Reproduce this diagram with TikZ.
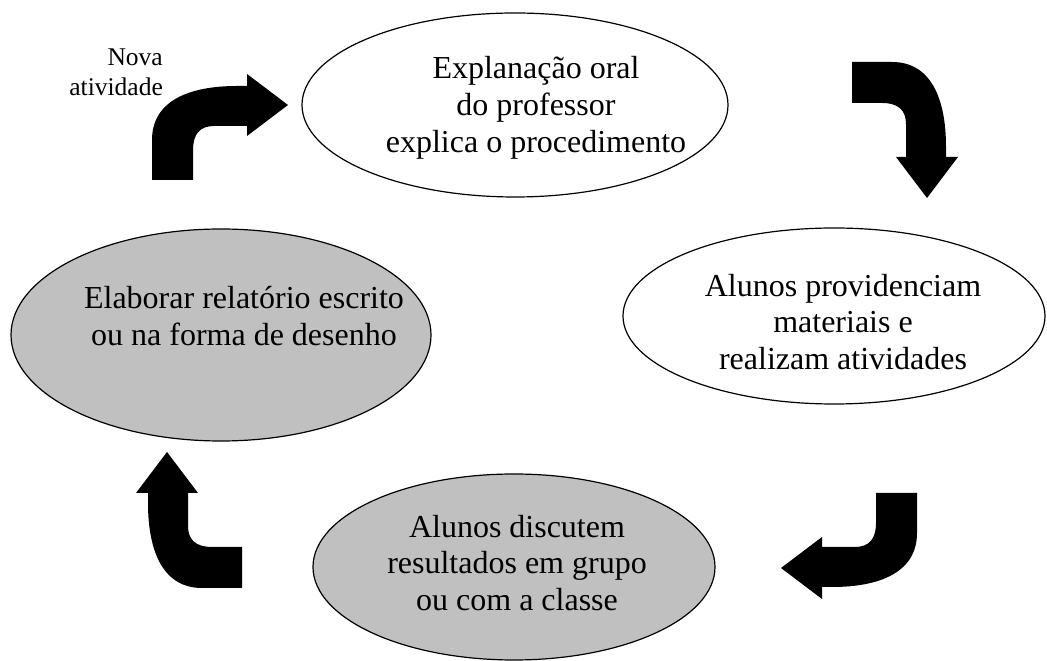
\documentclass[tikz,border=0pt]{standalone}
\usepackage{fontspec}
\setmainfont{Liberation Serif}
\usetikzlibrary{shapes.geometric}

\definecolor{cinza}{RGB}{192,192,192}
\tikzset{
  etapa/.style={ellipse, draw, line width=1.2pt, inner sep=0pt},
  etapacinza/.style={etapa, fill=cinza},
  rotulo/.style={font=\fontsize{32}{36.8}\selectfont, align=center, inner sep=0pt},
  seta/.style={fill=black}
}

\begin{document}
\begin{tikzpicture}[x=1pt, y=1pt]
    \useasboundingbox (0,0) rectangle (1047,661);
    % ellipses
    \node[etapa, minimum width=426, minimum height=184] (expl) at (515,556) {};
    \node[etapa, minimum width=422, minimum height=176] (mat) at (834,345) {};
    \node[etapacinza, minimum width=420, minimum height=212] (rel) at (221,326) {};
    \node[etapacinza, minimum width=402, minimum height=186] (disc) at (514,94) {};
    % texts
    \node[rotulo] (expl-txt) at (536,553) {Explanação oral\\do professor\\explica o procedimento};
    \node[rotulo] (mat-txt) at (843,339) {Alunos providenciam\\materiais e\\realizam atividades};
    \node[rotulo] (rel-txt) at (244,345) {Elaborar relatório escrito\\ou na forma de desenho};
    \node[rotulo] (disc-txt) at (517,98) {Alunos discutem\\resultados em grupo\\ou com a classe};
    \node[font=\fontsize{25.5}{30}\selectfont, align=right, inner sep=0pt, anchor=east] (nova) at (163,589) {Nova\\atividade};
    % bent arrows
    \begin{scope}[shift={(152,481)}]
      \fill[seta] (0,0) -- (41,0) -- (41,30) .. controls (41,46) and (48,54) .. (62,54) -- (95,54) -- (95,44) -- (136,75) -- (95,106) -- (95,94) -- (85,94) .. controls (35,94) and (0,78) .. (0,40) -- cycle;
    \end{scope}
    \begin{scope}[shift={(852,599)}, rotate=-90]
      \fill[seta] (0,0) -- (41,0) -- (41,30) .. controls (41,46) and (48,54) .. (62,54) -- (95,54) -- (95,44) -- (136,75) -- (95,106) -- (95,94) -- (85,94) .. controls (35,94) and (0,78) .. (0,40) -- cycle;
    \end{scope}
    \begin{scope}[shift={(917,168)}, rotate=180]
      \fill[seta] (0,0) -- (41,0) -- (41,30) .. controls (41,46) and (48,54) .. (62,54) -- (95,54) -- (95,44) -- (136,75) -- (95,106) -- (95,94) -- (85,94) .. controls (35,94) and (0,78) .. (0,40) -- cycle;
    \end{scope}
    \begin{scope}[shift={(242,73)}, rotate=90]
      \fill[seta] (0,0) -- (41,0) -- (41,30) .. controls (41,46) and (48,54) .. (62,54) -- (95,54) -- (95,44) -- (136,75) -- (95,106) -- (95,94) -- (85,94) .. controls (35,94) and (0,78) .. (0,40) -- cycle;
    \end{scope}
\end{tikzpicture}
\end{document}
